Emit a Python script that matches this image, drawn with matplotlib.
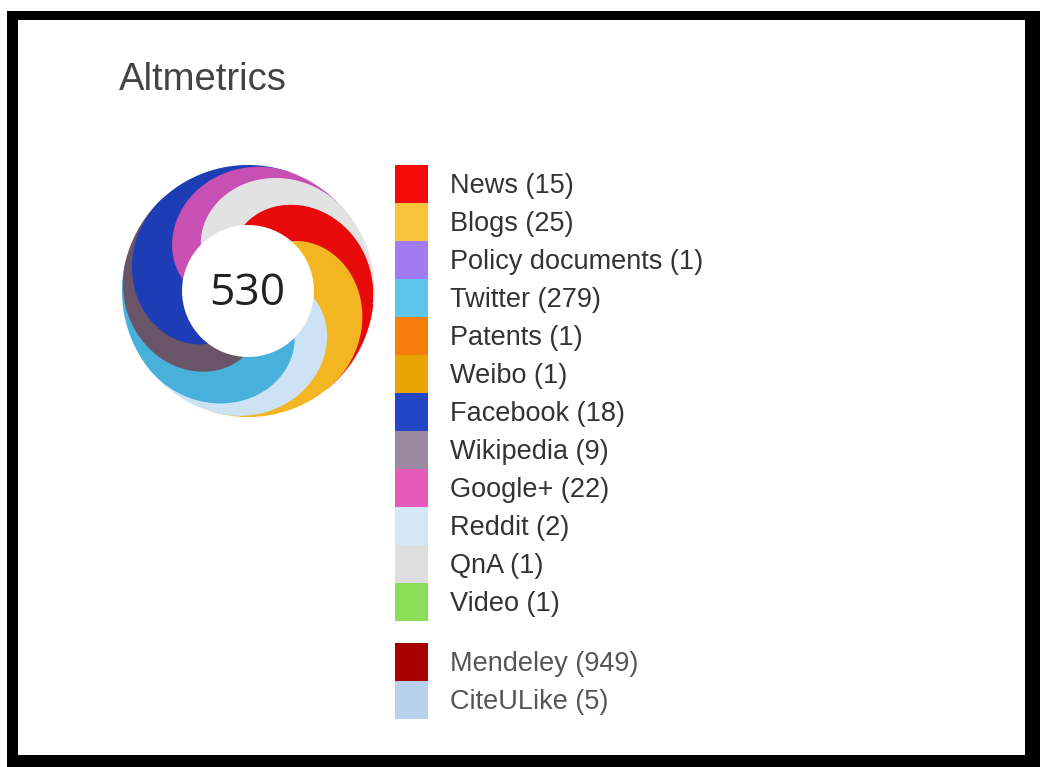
import numpy as np
import matplotlib
matplotlib.use("Agg")
import matplotlib.pyplot as plt
from matplotlib.patches import Rectangle, Polygon, Circle

# legend data
labels = ["News", "Blogs", "Policy documents", "Twitter", "Patents", "Weibo",
          "Facebook", "Wikipedia", "Google+", "Reddit", "QnA", "Video"]
counts = [15, 25, 1, 279, 1, 1, 18, 9, 22, 2, 1, 1]
colors = ["#f50a0a", "#f7c43c", "#a17cf0", "#5cc5ea", "#f77d0c", "#e8a404",
          "#2446c6", "#998aa0", "#e65ab9", "#d4e7f4", "#dedede", "#8ade58"]

readers = ["Mendeley", "CiteULike"]
reader_counts = [949, 5]
reader_colors = ["#a80000", "#b9d1ed"]

score = 530

# donut segments, clockwise from the top, share of the ring (degrees)
donut_sources = ["News", "Blogs", "Reddit", "Twitter", "Wikipedia", "Facebook", "Google+", "QnA"]
donut_share = [45, 55, 39, 49, 33, 63, 35, 41]
donut_colors = ["#e80a0a", "#f4b522", "#cde2f4", "#47b1dc", "#6a5468", "#1c3db6", "#c84fb3", "#e2e2e2"]

fig = plt.figure(figsize=(10.4, 7.67), dpi=100)
ax = fig.add_axes([0, 0, 1, 1])
ax.set_xlim(0, 1040)
ax.set_ylim(767, 0)
ax.axis("off")

# black frame
ax.add_patch(Rectangle((7, 11), 1040, 767, facecolor="black", edgecolor="none"))
ax.add_patch(Rectangle((18, 20), 1007, 735, facecolor="white", edgecolor="none"))

ax.text(119, 80, "Altmetrics", fontsize=27.5, color="#444444", family="Liberation Sans",
        ha="left", va="center")

# ---- donut ----
cx, cy = 248, 291
R, r_in = 126, 66
G = 100.0  # degrees a segment needs to grow to full width
start0 = -4.0

n = len(donut_share)
scale = 360.0 / float(sum(donut_share))
spans = np.array(donut_share) * scale
starts = start0 + np.concatenate([[0], np.cumsum(spans)[:-1]])


def outer_r(phi, s):
    t = np.clip((phi - s) / G, 0, 1)
    return r_in + (R - r_in) * (1 - (1 - t) ** 2)


def xy(phi, r):
    th = np.radians(phi)
    return cx + r * np.sin(th), cy - r * np.cos(th)


for j in range(n):
    s = starts[j]
    s_next = starts[j + 1] if j + 1 < n else starts[0] + 360
    e = s_next + G
    last = j == n - 1
    ext = 0.0 if last else 2.0
    # outer edge of this segment
    p_out = np.linspace(s, e, 150)
    xo, yo = xy(p_out, outer_r(p_out, s))
    # inner edge: edge of the next segment, then the hole
    p_mid = np.linspace(e, s_next, 100)
    xm, ym = xy(p_mid, outer_r(p_mid, s_next) - ext)
    p_in = np.linspace(s_next, s, 60)
    xi, yi = xy(p_in, np.full_like(p_in, r_in - 2))
    pts = np.column_stack([np.concatenate([xo, xm, xi]), np.concatenate([yo, ym, yi])])
    col = donut_colors[j]
    ax.add_patch(Polygon(pts, closed=True, facecolor=col,
                         edgecolor=col if last else "none", linewidth=0.8 if last else 0))

ax.add_patch(Circle((cx, cy), r_in, facecolor="white", edgecolor="none"))
ax.text(cx - 1, cy + 3, str(score), fontsize=32, color="#222222", family="Open Sans",
        ha="center", va="center")

# ---- legend ----
row_h = 38.0
top = 165.0
sq_x, sq_w = 395, 33
txt_x = 450
for i, (lab, c, col) in enumerate(zip(labels, counts, colors)):
    y = top + i * row_h
    ax.add_patch(Rectangle((sq_x, y), sq_w, row_h, facecolor=col, edgecolor="none"))
    ax.text(txt_x, y + row_h / 2 + 2, f"{lab} ({c})", fontsize=19.5, color="#333333",
            family="Liberation Sans", ha="left", va="center")

top2 = top + len(labels) * row_h + 22
for i, (lab, c, col) in enumerate(zip(readers, reader_counts, reader_colors)):
    y = top2 + i * row_h
    ax.add_patch(Rectangle((sq_x, y), sq_w, row_h, facecolor=col, edgecolor="none"))
    ax.text(txt_x, y + row_h / 2 + 2, f"{lab} ({c})", fontsize=19.5, color="#555555",
            family="Liberation Sans", ha="left", va="center")

fig.savefig("out.png", dpi=100)
